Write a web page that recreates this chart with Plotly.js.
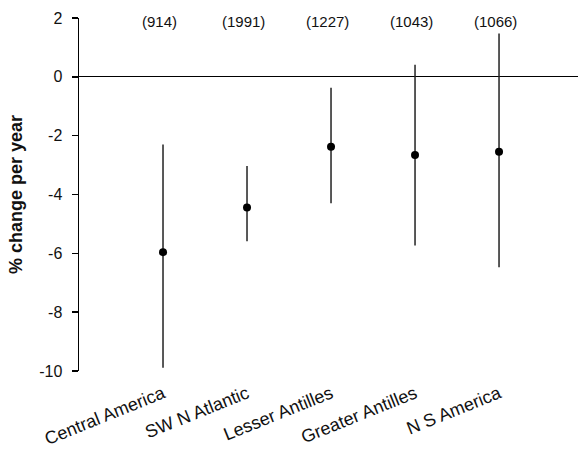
<!DOCTYPE html>
<html>
<head>
<meta charset="utf-8">
<script src="https://cdn.plot.ly/plotly-3.0.1.min.js"></script>
<style>html,body{margin:0;padding:0;background:#fff;}#chart{width:578px;height:452px;}</style>
</head>
<body>
<div id="chart"></div>
<script>
const regions = ["Central America", "SW N Atlantic", "Lesser Antilles", "Greater Antilles", "N S America"];
const sampleSizes = ["(914)", "(1991)", "(1227)", "(1043)", "(1066)"];
const meanChange = [-5.96, -4.44, -2.38, -2.66, -2.55];
const upperCI = [-2.30, -3.03, -0.37, 0.41, 1.47];
const lowerCI = [-9.89, -5.59, -4.30, -5.73, -6.47];
const yTickVals = [2, 0, -2, -4, -6, -8, -10];
const yTickText = ["2", "0", "-2", "-4", "-6", "-8", "-10"];

const xs = regions.map((_, i) => i);
const plus = upperCI.map((u, i) => u - meanChange[i]);
const minus = meanChange.map((m, i) => m - lowerCI[i]);

const FONT = 'Liberation Sans, Arial, sans-serif';

const trace = {
  x: xs,
  y: meanChange,
  type: 'scatter',
  mode: 'markers',
  marker: {color: '#000', size: 8},
  error_y: {type: 'data', symmetric: false, array: plus, arrayminus: minus, width: 0, thickness: 1.5, color: '#222'},
  hoverinfo: 'none',
  showlegend: false
};

const annotations = sampleSizes.map((t, i) => ({
  x: xs[i] - 0.04, y: 1.87, xref: 'x', yref: 'y', text: t, showarrow: false,
  font: {family: FONT, size: 15, color: '#111'}
}));

const layout = {
  width: 578, height: 452,
  margin: {l: 79, r: 0, t: 18, b: 81},
  paper_bgcolor: '#fff', plot_bgcolor: '#fff',
  font: {family: FONT, color: '#111'},
  xaxis: {
    range: [-1, 4.94], tickvals: xs, ticktext: regions, tickangle: -22,
    showgrid: false, zeroline: false, showline: false, ticks: '',
    tickfont: {size: 18, color: '#111'}, ticklabelstandoff: 8, fixedrange: true
  },
  yaxis: {
    range: [-10, 2], tickvals: yTickVals, ticktext: yTickText,
    showgrid: false, zeroline: true, zerolinecolor: '#000', zerolinewidth: 1,
    showline: true, linecolor: '#000', linewidth: 1.5,
    ticks: 'outside', ticklen: 6, tickwidth: 1.5, tickcolor: '#000',
    tickfont: {size: 16, color: '#111'}, ticklabelstandoff: 6,
    title: {text: '<b>% change per year</b>', font: {size: 18, color: '#111'}, standoff: 12},
    fixedrange: true
  },
  annotations: annotations
};

Plotly.newPlot('chart', [trace], layout, {displayModeBar: false, staticPlot: true});
</script>
</body>
</html>
